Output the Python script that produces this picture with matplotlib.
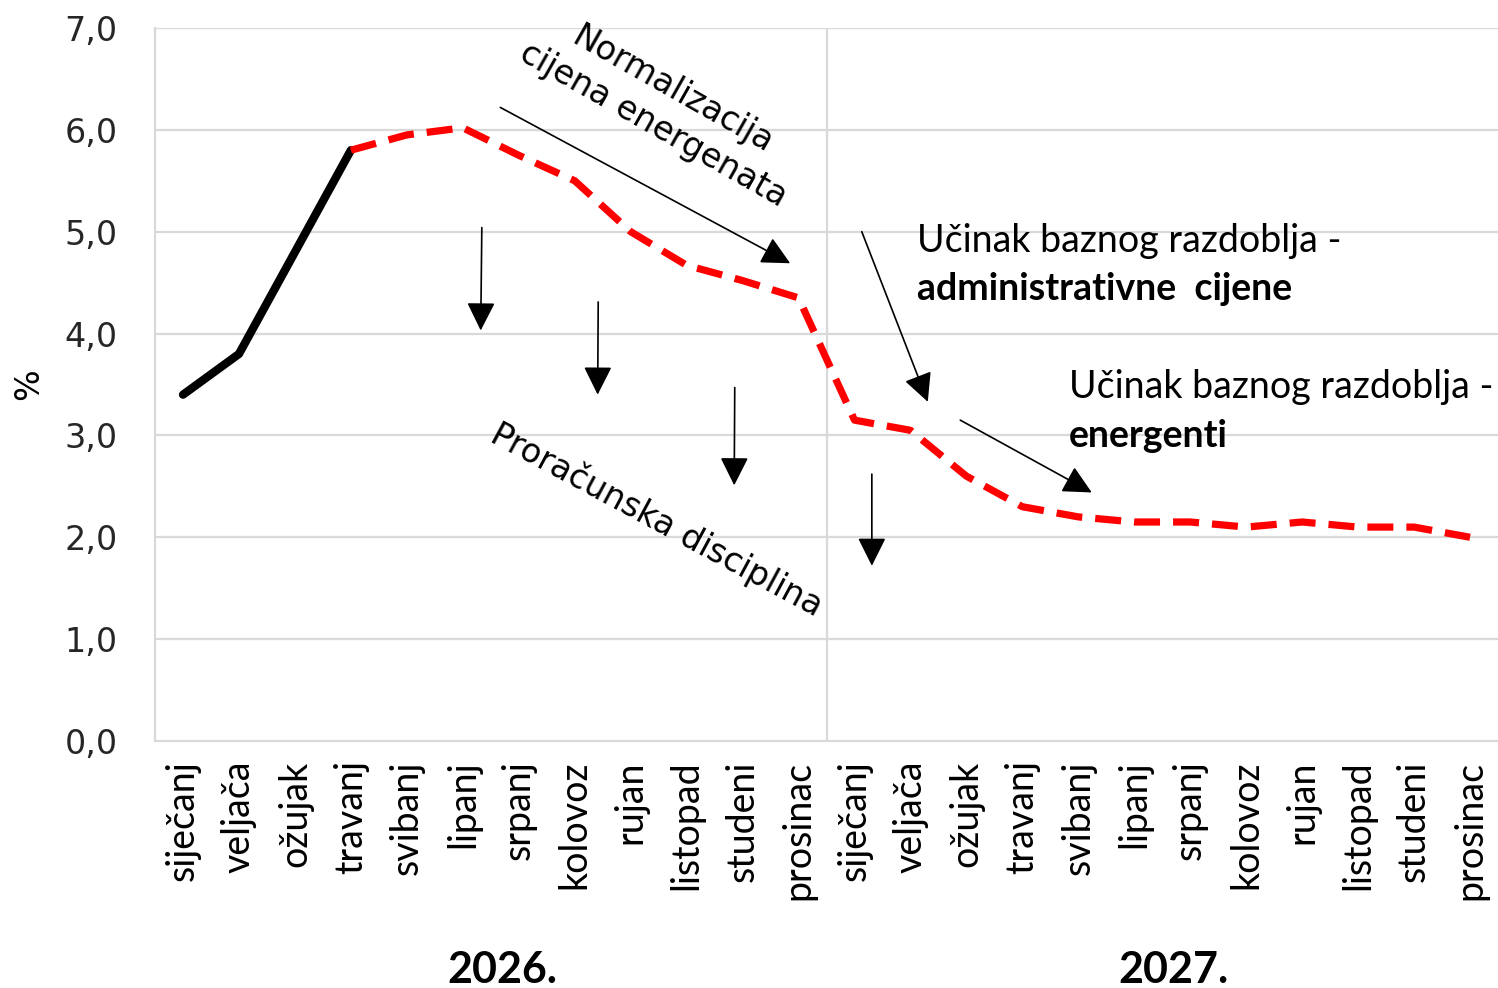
import numpy as np
import matplotlib.pyplot as plt
from matplotlib.transforms import blended_transform_factory, ScaledTranslation

# monthly data, 2026-2027
months = ['siječanj', 'veljača', 'ožujak', 'travanj', 'svibanj', 'lipanj',
          'srpanj', 'kolovoz', 'rujan', 'listopad', 'studeni', 'prosinac']
labels = months + months
years = ['2026.', '2027.']

actual = [3.4, 3.8, 4.8, 5.8]
forecast = [5.8, 5.95, 6.02, 5.75, 5.5, 5.0, 4.67, 4.52, 4.35,
            3.15, 3.05, 2.6, 2.3, 2.2, 2.15, 2.15, 2.1, 2.15, 2.1, 2.1, 2.0]

x_act = np.arange(len(actual))
x_fc = np.arange(len(actual) - 1, len(actual) - 1 + len(forecast))

fig = plt.figure(figsize=(14.98, 9.88), dpi=100)
ax = fig.add_axes([0.1035, 0.25, 0.8965, 0.7217])

grid_c = '#d9d9d9'
for yv in range(1, 8):
    ax.axhline(yv, color=grid_c, lw=1.6, zorder=0)
ax.axvline(11.5, color=grid_c, lw=1.6, zorder=0)

ax.plot(x_act, actual, color='black', lw=6, solid_capstyle='round',
        solid_joinstyle='round', zorder=3)
ax.plot(x_fc, forecast, color='#ff0000', lw=5.2, dashes=(3.6, 1.8),
        dash_joinstyle='round', zorder=3)

ax.set_xlim(-0.5, 23.5)
ax.set_ylim(0, 7)
ax.set_yticks(range(0, 8))
ax.set_yticklabels(['%d,0' % v for v in range(0, 8)], fontsize=24,
                   family='DejaVu Sans', color='#262626')
ax.set_xticks(range(24))
ax.set_xticklabels(labels, rotation=90, fontsize=27, family='Lato', va='top')
shift = ScaledTranslation(5 / 72, 0, fig.dpi_scale_trans)
for lbl in ax.get_xticklabels():
    lbl.set_transform(lbl.get_transform() + shift)
ax.tick_params(axis='both', length=0)
ax.tick_params(axis='y', pad=27)
ax.tick_params(axis='x', pad=14)
for s in ['top', 'right']:
    ax.spines[s].set_visible(False)
for s in ['left', 'bottom']:
    ax.spines[s].set_color(grid_c)
    ax.spines[s].set_linewidth(1.6)

ax.set_ylabel('%', fontsize=24, family='DejaVu Sans', labelpad=14)

trans = blended_transform_factory(ax.transData, fig.transFigure)
ax.text(5.7, 0.018, years[0], transform=trans, ha='center', va='center',
        fontsize=31, fontweight='bold', family='Lato')
ax.text(17.7, 0.018, years[1], transform=trans, ha='center', va='center',
        fontsize=31, fontweight='bold', family='Lato')

# arrows
arrow_kw = dict(arrowstyle='-|>,head_length=0.4,head_width=0.2', color='black',
                lw=1.2, mutation_scale=44, shrinkA=0, shrinkB=0)


def arrow(x0, y0, x1, y1):
    ax.annotate('', xy=(x1, y1), xytext=(x0, y0), arrowprops=arrow_kw, zorder=4)


arrow(5.67, 6.22, 10.85, 4.69)
arrow(5.34, 5.04, 5.32, 4.03)
arrow(7.42, 4.31, 7.41, 3.40)
arrow(9.86, 3.47, 9.85, 2.51)
arrow(12.31, 2.62, 12.31, 1.72)
arrow(12.13, 5.0, 13.31, 3.33)
arrow(13.89, 3.15, 16.24, 2.44)

# annotation texts
ax.text(8.58, 6.22, 'Normalizacija\ncijena energenata', rotation=-29.5,
        rotation_mode='anchor', ha='center', va='center', fontsize=24,
        family='DejaVu Sans', linespacing=1.3)
ax.text(8.47, 2.17, 'Proračunska disciplina', rotation=-28.3,
        rotation_mode='anchor', ha='center', va='center', fontsize=24,
        family='DejaVu Sans')

ax.text(13.12, 4.80, 'Učinak baznog razdoblja -', fontsize=27, family='Lato',
        ha='left', va='baseline')
ax.text(13.12, 4.33, 'administrativne  cijene', fontsize=27, family='Lato',
        fontweight='bold', ha='left', va='baseline')
ax.text(15.83, 3.37, 'Učinak baznog razdoblja -', fontsize=27, family='Lato',
        ha='left', va='baseline')
ax.text(15.83, 2.89, 'energenti', fontsize=27, family='Lato',
        fontweight='bold', ha='left', va='baseline')

fig.savefig('out.png', dpi=100)
